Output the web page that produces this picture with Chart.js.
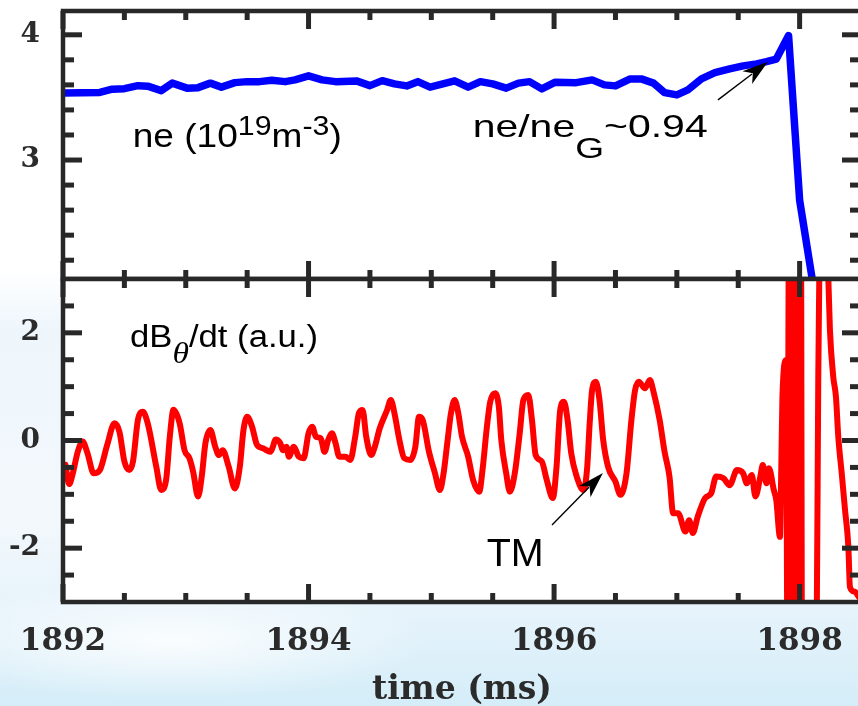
<!DOCTYPE html>
<html><head><meta charset="utf-8">
<script src="https://cdn.jsdelivr.net/npm/chart.js@4/dist/chart.umd.min.js"></script>
<style>
html,body{margin:0;padding:0;width:858px;height:706px;overflow:hidden;}
body{position:relative;
background:
 radial-gradient(ellipse 260px 60px at 170px 640px, rgba(255,255,255,0.85), rgba(255,255,255,0) 100%),
 linear-gradient(180deg,#ffffff 0px,#ffffff 270px,#eef6fc 330px,#f3f8fc 520px,#e6f3fb 610px,#d4edf8 706px);}
#c1{position:absolute;left:0;top:0;}
#c2{position:absolute;left:0;top:270px;}
</style></head><body>
<canvas id="c1" width="870" height="290"></canvas>
<canvas id="c2" width="870" height="440"></canvas>
<script>
// ---------------- data ----------------
const neTime = [1892.00,1892.30,1892.40,1892.50,1892.61,1892.69,1892.80,1892.89,1893.01,1893.10,1893.20,1893.29,1893.40,1893.50,1893.60,1893.70,1893.81,1893.89,1894.00,1894.11,1894.22,1894.39,1894.50,1894.60,1894.70,1894.80,1894.89,1894.99,1895.19,1895.30,1895.40,1895.50,1895.61,1895.71,1895.80,1895.90,1896.01,1896.18,1896.31,1896.41,1896.50,1896.62,1896.71,1896.81,1896.90,1897.00,1897.09,1897.20,1897.31,1897.43,1897.54,1897.65,1897.73,1897.81,1897.91,1898.00,1898.10,1898.16];
const neValues = [3.536,3.54,3.566,3.57,3.594,3.59,3.554,3.614,3.574,3.578,3.614,3.582,3.618,3.626,3.626,3.637,3.626,3.64,3.672,3.64,3.626,3.632,3.594,3.634,3.608,3.592,3.626,3.582,3.632,3.582,3.626,3.608,3.574,3.614,3.626,3.568,3.622,3.618,3.64,3.6,3.592,3.648,3.648,3.614,3.538,3.52,3.56,3.648,3.698,3.728,3.752,3.768,3.786,3.806,3.994,2.68,2.066,1.7];

const dbTime = [1892.02,1892.05,1892.08,1892.12,1892.16,1892.20,1892.25,1892.30,1892.36,1892.42,1892.46,1892.50,1892.54,1892.57,1892.61,1892.65,1892.69,1892.76,1892.80,1892.84,1892.87,1892.90,1892.95,1892.99,1893.03,1893.06,1893.10,1893.13,1893.16,1893.20,1893.24,1893.27,1893.30,1893.35,1893.40,1893.44,1893.47,1893.50,1893.54,1893.58,1893.63,1893.69,1893.71,1893.73,1893.77,1893.79,1893.82,1893.84,1893.88,1893.92,1893.96,1894.00,1894.03,1894.06,1894.10,1894.13,1894.16,1894.19,1894.22,1894.25,1894.30,1894.34,1894.38,1894.41,1894.44,1894.47,1894.51,1894.54,1894.58,1894.64,1894.67,1894.70,1894.74,1894.78,1894.83,1894.87,1894.90,1894.93,1894.98,1895.03,1895.07,1895.10,1895.13,1895.16,1895.19,1895.22,1895.25,1895.30,1895.34,1895.39,1895.42,1895.45,1895.48,1895.52,1895.55,1895.57,1895.61,1895.64,1895.68,1895.72,1895.75,1895.79,1895.82,1895.85,1895.90,1895.94,1895.99,1896.02,1896.05,1896.08,1896.11,1896.14,1896.18,1896.24,1896.27,1896.29,1896.31,1896.34,1896.37,1896.40,1896.44,1896.50,1896.54,1896.59,1896.63,1896.66,1896.69,1896.74,1896.78,1896.81,1896.86,1896.90,1896.94,1896.97,1897.01,1897.07,1897.10,1897.13,1897.17,1897.23,1897.28,1897.32,1897.38,1897.43,1897.49,1897.54,1897.57,1897.61,1897.64,1897.68,1897.70,1897.73,1897.75,1897.79,1897.81,1897.84,1897.85,1897.86,1897.89,1897.90,1897.913,1897.93,1897.946,1897.962,1897.979,1897.995,1898.011,1898.02,1898.12,1898.14,1898.152,1898.16,1898.19,1898.234,1898.247,1898.274,1898.296,1898.315,1898.343,1898.37,1898.397,1898.41,1898.45,1898.48,1898.52];
const dbValues = [-0.45,-0.81,-0.61,-0.21,-0.02,-0.24,-0.61,-0.55,-0.08,0.32,0.16,-0.39,-0.55,-0.39,0.38,0.535,0.32,-0.49,-0.92,-0.73,0.07,0.57,0.32,-0.18,-0.33,-0.58,-1.04,-0.67,-0.05,0.195,-0.115,-0.27,-0.18,-0.49,-0.89,-0.49,0.195,0.44,0.256,-0.08,-0.145,-0.21,-0.115,0.02,-0.05,-0.18,-0.115,-0.3,-0.115,-0.3,-0.33,0.134,0.256,0.07,0.04,-0.21,0.01,0.134,-0.05,-0.3,-0.3,-0.36,0.07,0.505,0.567,0.07,-0.27,-0.115,0.227,0.567,0.752,0.505,0.01,-0.33,-0.36,-0.115,0.44,0.38,-0.2,-0.61,-0.92,-0.61,-0.05,0.505,0.752,0.505,0.07,-0.3,-0.73,-0.95,-0.49,0.195,0.72,0.877,0.628,0.01,-0.61,-0.95,-0.61,0.134,0.752,0.845,0.38,-0.27,-0.39,-0.73,-1.07,-0.49,0.567,0.72,0.38,-0.24,-0.64,-0.92,-0.49,0.32,0.938,1.092,0.752,0.01,-0.49,-0.765,-1.01,-0.61,0.38,0.938,1.092,0.97,1.124,0.907,0.38,-0.21,-0.67,-1.35,-1.35,-1.69,-1.48,-1.72,-1.415,-1.07,-0.98,-0.67,-0.70,-0.83,-0.55,-0.61,-0.795,-0.64,-1.04,-0.67,-0.455,-0.795,-0.516,-0.92,-1.105,-1.79,-0.61,0.81,1.495,-3.6,3.8,-3.8,3.8,-3.8,3.8,-3.8,3.8,-4.5,-4.5,-3.2,1.185,3.0,4.8,3.0,2.05,1.185,0.81,0.07,-0.61,-1.29,-1.97,-2.72,-2.81,-2.9,-3.0];

const xMajorTicks = [1892,1894,1896,1898];
const xMinorTicks = [1892.5,1893,1893.5,1894.5,1895,1895.5,1896.5,1897,1897.5,1898.5];
const neMajorTicks = [3,4];
const neMinorTicks = [2.2,2.4,2.6,2.8,3.2,3.4,3.6,3.8];
const dbMajorTicks = [-2,0,2];
const dbMinorTicks = [-2.5,-1.5,-1,-0.5,0.5,1,1.5,2.5];
const xTitle = 'time (ms)';

// ---------------- styling helpers ----------------
const axisColor = '#282828';
const sans = 'Liberation Sans, Arial, sans-serif';

function framePlugin(yMajor, yMinor) {
  return {
    id: 'frame',
    beforeDraw(chart) {
      const {ctx, chartArea: a} = chart;
      ctx.save();
      ctx.fillStyle = '#ffffff';
      ctx.fillRect(a.left, a.top, a.right - a.left, a.bottom - a.top);
      ctx.restore();
    },
    afterDatasetsDraw(chart) {
      const {ctx, chartArea: a, scales: {x, y}} = chart;
      ctx.save();
      ctx.strokeStyle = axisColor;
      ctx.lineCap = 'butt';
      ctx.lineWidth = 5;
      const hl = (py, len) => {
        ctx.beginPath(); ctx.moveTo(a.left, py); ctx.lineTo(a.left + len, py); ctx.stroke();
        ctx.beginPath(); ctx.moveTo(a.right, py); ctx.lineTo(a.right - len, py); ctx.stroke();
      };
      const vl = (px, len) => {
        ctx.beginPath(); ctx.moveTo(px, a.bottom); ctx.lineTo(px, a.bottom - len); ctx.stroke();
        ctx.beginPath(); ctx.moveTo(px, a.top); ctx.lineTo(px, a.top + len); ctx.stroke();
      };
      yMajor.forEach(v => hl(y.getPixelForValue(v), 19));
      yMinor.forEach(v => hl(y.getPixelForValue(v), 11));
      xMajorTicks.forEach(v => vl(x.getPixelForValue(v), 18));
      xMinorTicks.forEach(v => vl(x.getPixelForValue(v), 9));
      ctx.lineWidth = 4.5;
      ctx.strokeRect(a.left, a.top, a.right - a.left, a.bottom - a.top);
      ctx.restore();
    }
  };
}

function drawRich(ctx, px, py, parts, targetW) {
  let w = 0;
  parts.forEach(p => { ctx.font = p.font; p.w = ctx.measureText(p.t).width; w += p.w; });
  const s = targetW / w;
  ctx.save();
  ctx.translate(px, py);
  ctx.scale(s, 1);
  ctx.fillStyle = '#000';
  ctx.textBaseline = 'alphabetic';
  ctx.textAlign = 'left';
  let cx = 0;
  parts.forEach(p => { ctx.font = p.font; ctx.fillText(p.t, cx, p.dy || 0); cx += p.w; });
  ctx.restore();
}

function drawArrow(ctx, x0, y0, x1, y1) {
  const ang = Math.atan2(y1 - y0, x1 - x0);
  const hl = 26, hw = 8;
  const bx = x1 - hl * Math.cos(ang), by = y1 - hl * Math.sin(ang);
  ctx.save();
  ctx.strokeStyle = '#000'; ctx.fillStyle = '#000'; ctx.lineWidth = 1.4;
  ctx.beginPath(); ctx.moveTo(x0, y0); ctx.lineTo(bx + 6 * Math.cos(ang), by + 6 * Math.sin(ang)); ctx.stroke();
  const nx = -Math.sin(ang), ny = Math.cos(ang);
  ctx.beginPath();
  ctx.moveTo(x1, y1);
  ctx.lineTo(bx + nx * hw, by + ny * hw);
  ctx.lineTo(bx + 7 * Math.cos(ang), by + 7 * Math.sin(ang));
  ctx.lineTo(bx - nx * hw, by - ny * hw);
  ctx.closePath(); ctx.fill();
  ctx.restore();
}

function annotPlugin(texts, arrows) {
  return {
    id: 'annot',
    afterDraw(chart) {
      const {ctx, scales: {x, y}} = chart;
      texts.forEach(tx => drawRich(ctx, x.getPixelForValue(tx.x), y.getPixelForValue(tx.y), tx.parts, tx.width));
      arrows.forEach(ar => drawArrow(ctx, x.getPixelForValue(ar.from[0]), y.getPixelForValue(ar.from[1]),
                                         x.getPixelForValue(ar.to[0]), y.getPixelForValue(ar.to[1])));
    }
  };
}

const topTexts = [
  {x: 1892.568, y: 3.106, width: 209, parts: [
    {t: 'ne (10', font: '33px ' + sans},
    {t: '19', font: '27px ' + sans, dy: -12},
    {t: 'm', font: '33px ' + sans},
    {t: '-3', font: '27px ' + sans, dy: -12},
    {t: ')', font: '33px ' + sans}]},
  {x: 1895.337, y: 3.182, width: 235, parts: [
    {t: 'ne/ne', font: '32px ' + sans},
    {t: 'G', font: '29px ' + sans, dy: 21},
    {t: '~0.94', font: '32px ' + sans}]}
];
const topArrows = [{from: [1897.335, 3.48], to: [1897.742, 3.784]}];

const botTexts = [
  {x: 1892.546, y: 1.737, width: 188, parts: [
    {t: 'dB', font: '31px ' + sans},
    {t: '\u03B8', font: 'italic 30px Liberation Serif, serif', dy: 16},
    {t: '/dt (a.u.)', font: '31px ' + sans}]},
  {x: 1895.451, y: -2.331, width: 57, parts: [{t: 'TM', font: '38px ' + sans}]}
];
const botArrows = [{from: [1895.983, -1.57], to: [1896.398, -0.604]}];

const tickFont = {family: 'DejaVu Serif', weight: 'bold', size: 28};
const common = {
  responsive: false, animation: false, devicePixelRatio: 1,
  plugins: {legend: {display: false}, tooltip: {enabled: false}},
  elements: {point: {radius: 0}, line: {tension: 0}}
};

const fitY = s => { s.width = 63; s.paddingTop = 0; s.paddingBottom = 0; };

new Chart(document.getElementById('c1'), {
  type: 'line',
  data: {datasets: [{data: neTime.map((t, i) => ({x: t, y: neValues[i]})),
    borderColor: '#0000ff', borderWidth: 7.5, pointRadius: 0, clip: 0,
    borderJoinStyle: 'round', borderCapStyle: 'round'}]},
  options: Object.assign({}, common, {
    layout: {padding: {top: 11, right: 9, bottom: 11, left: 0}},
    scales: {
      x: {type: 'linear', min: 1892, max: 1898.5, display: false},
      y: {type: 'linear', min: 2.05, max: 4.19,
        afterBuildTicks: s => { s.ticks = neMajorTicks.map(v => ({value: v})); },
        afterFit: fitY,
        grid: {display: false}, border: {display: false},
        ticks: {font: tickFont, color: '#2b2b2b', padding: 15, callback: v => String(v)}}
    }
  }),
  plugins: [framePlugin(neMajorTicks, neMinorTicks), annotPlugin(topTexts, topArrows)]
});

new Chart(document.getElementById('c2'), {
  type: 'line',
  data: {datasets: [{data: dbTime.map((t, i) => ({x: t, y: dbValues[i]})),
    borderColor: '#ff0000', borderWidth: 6, pointRadius: 0, clip: 0,
    cubicInterpolationMode: 'monotone',
    borderJoinStyle: 'round', borderCapStyle: 'round'}]},
  options: Object.assign({}, common, {
    layout: {padding: {top: 9, right: 9, bottom: 0, left: 0}},
    scales: {
      x: {type: 'linear', min: 1892, max: 1898.5,
        afterBuildTicks: s => { s.ticks = xMajorTicks.map(v => ({value: v})); },
        afterFit: s => { s.height = 108; s.paddingLeft = 0; s.paddingRight = 0; },
        grid: {display: false}, border: {display: false},
        ticks: {font: {family: 'DejaVu Serif', weight: 'bold', size: 31}, color: '#2b2b2b', padding: 13,
          maxRotation: 0, autoSkip: false, callback: v => String(v)},
        title: {display: true, text: xTitle, color: '#2b2b2b', padding: {top: 0, bottom: 0},
          font: {family: 'DejaVu Serif', weight: 'bold', size: 33}}},
      y: {type: 'linear', min: -3, max: 3,
        afterBuildTicks: s => { s.ticks = dbMajorTicks.map(v => ({value: v})); },
        afterFit: fitY,
        grid: {display: false}, border: {display: false},
        ticks: {font: tickFont, color: '#2b2b2b', padding: 15, callback: v => String(v)}}
    }
  }),
  plugins: [framePlugin(dbMajorTicks, dbMinorTicks), annotPlugin(botTexts, botArrows)]
});
</script>
</body></html>
